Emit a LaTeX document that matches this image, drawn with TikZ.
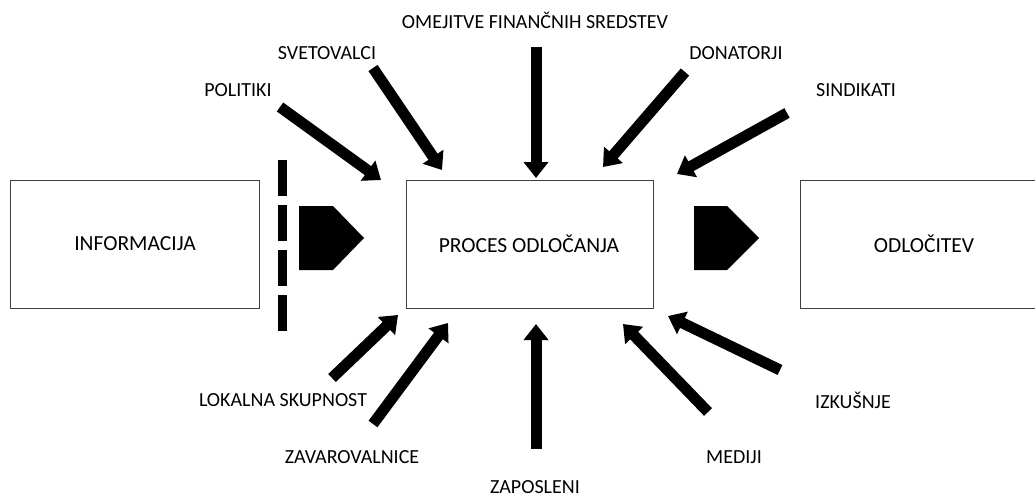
\documentclass[tikz,border=0pt]{standalone}
\usepackage{fontspec}
\setmainfont{Carlito}
\usetikzlibrary{arrows.meta}
\begin{document}
\begin{tikzpicture}[x=1pt,y=-1pt,
  box/.style={draw=black!75,line width=0.9pt},
  boxtext/.style={font=\fontsize{21.5}{25}\selectfont,inner sep=0pt},
  lbl/.style={font=\fontsize{20}{24}\selectfont,inner sep=0pt},
  blk/.style={line width=11pt,-{Triangle[length=16pt,width=24pt]}},
  pent/.style={fill=black}]
\useasboundingbox (0,0) rectangle (1035,498);
\begin{scope}
\clip (0,0) rectangle (1035,498);
% the three stages
\draw[box] (10,180) rectangle (259,308);
\draw[box] (406,180) rectangle (653,308);
\draw[box] (800,180) rectangle (1048,308);
\end{scope}
\node[boxtext] (info) at (135,244) {INFORMACIJA};
\node[boxtext] (proc) at (529,244) {PROCES ODLOČANJA};
\node[boxtext] (odl) at (924,244) {ODLOČITEV};

% filter between information and process
\draw[line width=9pt,dash pattern=on 36pt off 9pt] (282,160) -- (282,331);

% pentagon arrows
\fill[pent] (299,206) -- (333,206) -- (364,238) -- (333,270) -- (299,270) -- cycle;
\fill[pent] (694,206) -- (727,206) -- (759,238) -- (727,270) -- (694,270) -- cycle;

% influence labels
\node[lbl] (omej) at (535,20) {OMEJITVE FINANČNIH SREDSTEV};
\node[lbl] (svet) at (327,53) {SVETOVALCI};
\node[lbl] (don) at (736,53) {DONATORJI};
\node[lbl] (pol) at (238,90) {POLITIKI};
\node[lbl] (sind) at (856,90) {SINDIKATI};
\node[lbl] (lok) at (283,400) {LOKALNA SKUPNOST};
\node[lbl] (izk) at (853,400) {IZKUŠNJE};
\node[lbl] (zav) at (352,457) {ZAVAROVALNICE};
\node[lbl] (med) at (734,457) {MEDIJI};
\node[lbl] (zap) at (535,487) {ZAPOSLENI};

% arrow ends
\coordinate (polA) at (280,107);  \coordinate (polB) at (381,180);
\coordinate (svetA) at (373,68);  \coordinate (svetB) at (442,170);
\coordinate (omejA) at (536,47);  \coordinate (omejB) at (536,178);
\coordinate (donA) at (685,72);   \coordinate (donB) at (603,167);
\coordinate (sindA) at (787,113); \coordinate (sindB) at (677,174);
\coordinate (lokA) at (332,378);  \coordinate (lokB) at (398,315);
\coordinate (zavA) at (373,424);  \coordinate (zavB) at (448,323);
\coordinate (zapA) at (536,449);  \coordinate (zapB) at (536,324);
\coordinate (medA) at (708,412);  \coordinate (medB) at (623,324);
\coordinate (izkA) at (780,370);  \coordinate (izkB) at (668,316);

\foreach \n in {pol,svet,omej,don,sind,lok,zav,zap,med,izk}
  \draw[blk] (\n A) -- (\n B);
\end{tikzpicture}
\end{document}
